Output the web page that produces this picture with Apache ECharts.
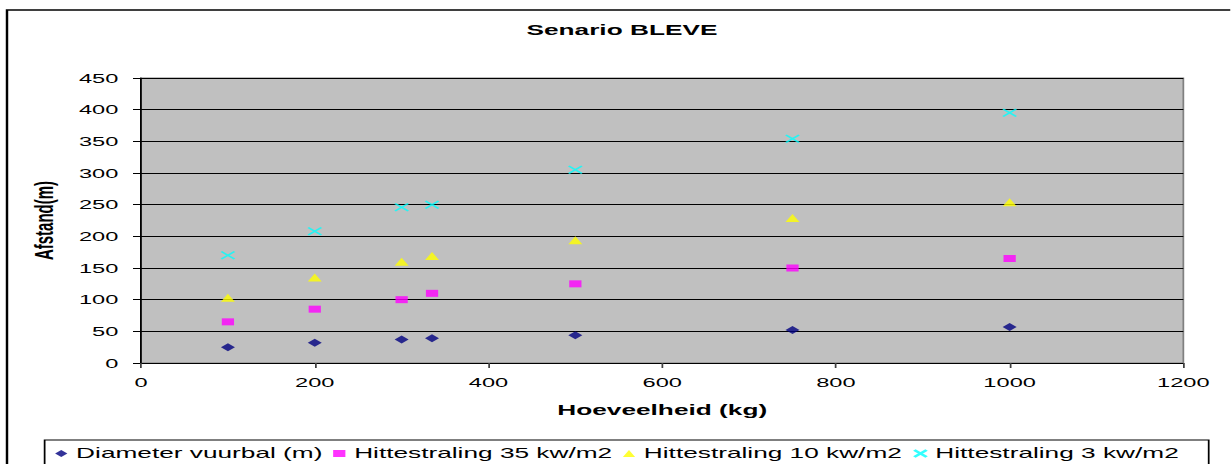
<!DOCTYPE html>
<html>
<head>
<meta charset="utf-8">
<script src="https://cdn.jsdelivr.net/npm/echarts@6/dist/echarts.min.js"></script>
<style>
  html, body { margin: 0; padding: 0; background: #fff; overflow: hidden; }
  #wrap { width: 1231px; height: 464px; overflow: hidden; position: relative; }
  #chart { width: 703.43px; height: 464px; transform: scaleX(1.75); transform-origin: 0 0; }
</style>
</head>
<body>
<div id="wrap"><div id="chart"></div></div>
<script>
const titleText = 'Senario BLEVE';
const xAxisTitle = 'Hoeveelheid (kg)';
const yAxisTitle = 'Afstand(m)';
const seriesNames = ['Diameter vuurbal (m)', 'Hittestraling 35 kw/m2', 'Hittestraling 10 kw/m2', 'Hittestraling 3 kw/m2'];
const quantities = [100, 200, 300, 335, 500, 750, 1000];
const diameter = [25, 32, 37, 39, 44, 52, 57];
const heat35 = [65, 85, 100, 110, 125, 150, 165];
const heat10 = [103, 135, 160, 169, 194, 229, 254];
const heat3 = [170, 208, 246, 250, 305, 354, 395];

const FONT = "'Liberation Sans', Arial, sans-serif";
const pair = (vals) => quantities.map((q, i) => [q, vals[i]]);

const chart = echarts.init(document.getElementById('chart'), null, { renderer: 'svg' });
chart.setOption({
  animation: false,
  backgroundColor: '#fff',
  title: {
    text: titleText,
    left: 355.4,
    top: 23,
    padding: 0,
    textAlign: 'center',
    textStyle: { fontFamily: FONT, fontSize: 15, fontWeight: 'bold', color: '#000' }
  },
  graphic: [{
    type: 'rect',
    shape: { x: 4, y: 10, width: 760, height: 520 },
    style: { fill: 'none', stroke: '#000', lineWidth: 1.4 },
    silent: true
  }],
  grid: {
    left: 80.6, right: 26.8, top: 78, bottom: 101,
    show: true, backgroundColor: '#C0C0C0', borderColor: '#808080', borderWidth: 1
  },
  xAxis: {
    type: 'value', min: 0, max: 1200, interval: 200,
    name: xAxisTitle, nameLocation: 'middle', nameGap: 40,
    nameTextStyle: { fontFamily: FONT, fontSize: 15, fontWeight: 'bold', color: '#000' },
    axisLine: { show: true, onZero: false, lineStyle: { color: '#000', width: 1 } },
    axisTick: { show: true, length: 5, lineStyle: { color: '#404040' } },
    axisLabel: { margin: 12, fontFamily: FONT, fontSize: 13.5, color: '#000', formatter: (v) => String(v) },
    splitLine: { show: false }
  },
  yAxis: {
    type: 'value', min: 0, max: 450, interval: 50,
    name: yAxisTitle, nameLocation: 'middle', nameGap: 48, nameRotate: 90,
    nameTextStyle: { fontFamily: FONT, fontSize: 15, fontWeight: 'bold', color: '#000' },
    axisLine: { show: true, lineStyle: { color: '#000', width: 1 } },
    axisTick: { show: true, length: 4.6, lineStyle: { color: '#000' } },
    axisLabel: { margin: 13, fontFamily: FONT, fontSize: 13.5, color: '#000', formatter: (v) => String(v) },
    splitLine: { show: true, lineStyle: { color: '#000', width: 1 } }
  },
  legend: {
    data: seriesNames,
    left: 25.5, top: 440,
    padding: [6, 17, 12, 6],
    itemGap: 6,
    itemWidth: 7, itemHeight: 7,
    borderColor: '#000', borderWidth: 1,
    backgroundColor: '#fff',
    textStyle: { fontFamily: FONT, fontSize: 15, color: '#000' }
  },
  series: [
    { name: seriesNames[0], type: 'scatter', data: pair(diameter), symbol: 'diamond', symbolSize: [8, 8],
      itemStyle: { color: '#000080' } },
    { name: seriesNames[1], type: 'scatter', data: pair(heat35), symbol: 'rect', symbolSize: [7, 7],
      itemStyle: { color: '#FF00FF' } },
    { name: seriesNames[2], type: 'scatter', data: pair(heat10), symbol: 'triangle', symbolSize: [8, 8],
      itemStyle: { color: '#FFFF00' } },
    { name: seriesNames[3], type: 'scatter', data: pair(heat3), symbol: 'path://M0,0L10,10M10,0L0,10', symbolSize: [7.5, 7.5],
      itemStyle: { color: '#00FFFF', borderColor: '#00FFFF', borderWidth: 1.3 } }
  ]
});
</script>
</body>
</html>
